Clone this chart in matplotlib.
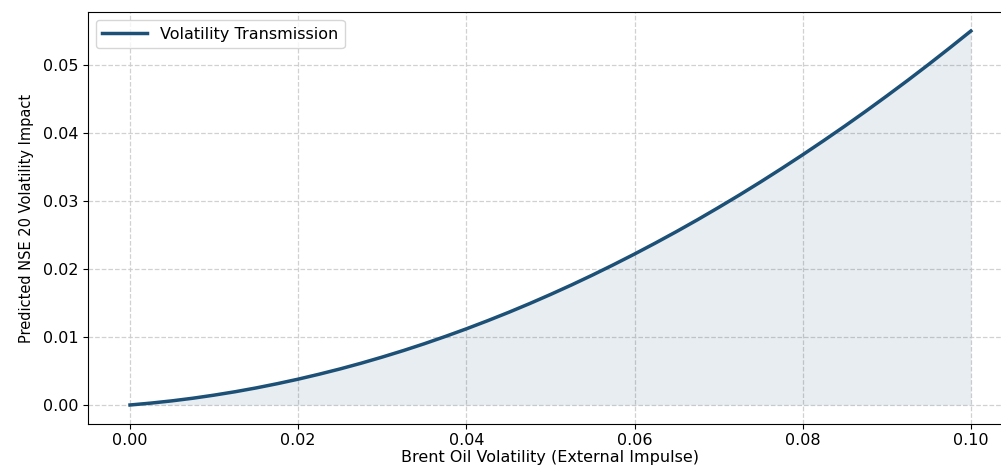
import matplotlib
matplotlib.use("Agg")
import matplotlib.pyplot as plt

# Data
brent_vol = [0.0000, 0.0025, 0.0050, 0.0075, 0.0100, 0.0125, 0.0150, 0.0175, 0.0200,
             0.0225, 0.0250, 0.0275, 0.0300, 0.0325, 0.0350, 0.0375, 0.0400,
             0.0425, 0.0450, 0.0475, 0.0500, 0.0525, 0.0550, 0.0575, 0.0600,
             0.0625, 0.0650, 0.0675, 0.0700, 0.0725, 0.0750, 0.0775, 0.0800,
             0.0825, 0.0850, 0.0875, 0.0900, 0.0925, 0.0950, 0.0975, 0.1000]
nse_impact = [0.00000, 0.00028, 0.00061, 0.00100, 0.00145, 0.00195, 0.00251, 0.00313, 0.00380,
              0.00453, 0.00531, 0.00615, 0.00705, 0.00800, 0.00901, 0.01008, 0.01120,
              0.01238, 0.01361, 0.01490, 0.01625, 0.01765, 0.01911, 0.02063, 0.02220,
              0.02383, 0.02551, 0.02725, 0.02905, 0.03090, 0.03281, 0.03478, 0.03680,
              0.03888, 0.04101, 0.04320, 0.04545, 0.04775, 0.05011, 0.05253, 0.05500]
series_label = "Volatility Transmission"
x_label = "Brent Oil Volatility (External Impulse)"
y_label = "Predicted NSE 20 Volatility Impact"

line_color = "#1c5076"

fig = plt.figure(figsize=(10.01, 4.66), dpi=100)
ax = fig.add_axes([0.0879, 0.0908, 0.924, 0.8828])

ax.plot(brent_vol, nse_impact, color=line_color, linewidth=2.5, label=series_label)
ax.fill_between(brent_vol, nse_impact, 0, color=line_color, alpha=0.1, linewidth=0)

ax.grid(True, linestyle="--", color="#cccccc", linewidth=0.9, alpha=0.9)
ax.set_axisbelow(True)
ax.spines["right"].set_visible(False)

ax.set_xticks([0.00, 0.02, 0.04, 0.06, 0.08, 0.10])
ax.set_yticks([0.00, 0.01, 0.02, 0.03, 0.04, 0.05])
ax.xaxis.set_major_formatter(matplotlib.ticker.FormatStrFormatter("%.2f"))
ax.yaxis.set_major_formatter(matplotlib.ticker.FormatStrFormatter("%.2f"))
ax.tick_params(labelsize=11.5)

ax.set_xlabel(x_label, fontsize=11.5, labelpad=1)
ax.set_ylabel(y_label, fontsize=10.5, labelpad=6)

ax.legend(loc="upper left", fontsize=11.5, frameon=True, handlelength=2.8)

fig.savefig("out.png", dpi=100)
